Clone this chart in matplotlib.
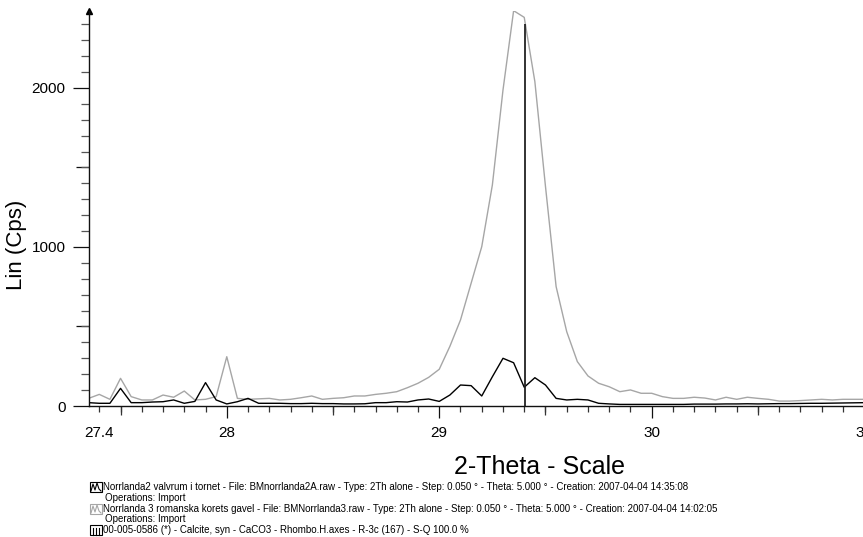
import numpy as np
import matplotlib.pyplot as plt
from matplotlib.patches import Rectangle
from matplotlib.lines import Line2D
from matplotlib.ticker import FixedLocator, FuncFormatter, MultipleLocator

plt.rcParams['font.family'] = ['Liberation Sans', 'DejaVu Sans']

# Data, step 0.05 deg 2-theta
two_theta = np.linspace(27.35, 31.0, 74)

norrlanda2 = [21, 17, 17, 111, 21, 21, 25, 27, 38, 17,
              29, 147, 38, 13, 27, 48, 17, 17, 17, 15,
              15, 17, 15, 15, 13, 13, 14, 21, 21, 27,
              25, 38, 44, 29, 69, 132, 128, 63, 184, 300,
              272, 118, 178, 132, 48, 38, 42, 38, 17, 13,
              10, 10, 10, 10, 10, 10, 10, 12, 12, 12,
              13, 13, 14, 13, 14, 15, 15, 16, 17, 17,
              18, 19, 20, 21]

norrlanda3 = [48, 73, 42, 174, 59, 38, 38, 69, 55, 94,
              38, 42, 59, 310, 48, 42, 45, 48, 38, 42,
              52, 63, 42, 48, 52, 63, 63, 73, 80, 90,
              115, 143, 180, 231, 375, 541, 772, 1002, 1390, 1987,
              2486, 2444, 2040, 1380, 751, 467, 279, 189, 143, 121,
              90, 101, 80, 80, 59, 48, 48, 55, 50, 38,
              55, 42, 55, 48, 42, 31, 31, 34, 38, 42,
              38, 42, 42, 42]

calcite_pos = [29.405]
calcite_height = [2400]

legend_lines = [
    "Norrlanda2 valvrum i tornet - File: BMnorrlanda2A.raw - Type: 2Th alone - Step: 0.050 \u00b0 - Theta: 5.000 \u00b0 - Creation: 2007-04-04 14:35:08",
    "Operations: Import",
    "Norrlanda 3 romanska korets gavel - File: BMNorrlanda3.raw - Type: 2Th alone - Step: 0.050 \u00b0 - Theta: 5.000 \u00b0 - Creation: 2007-04-04 14:02:05",
    "Operations: Import",
    "00-005-0586 (*) - Calcite, syn - CaCO3 - Rhombo.H.axes - R-3c (167) - S-Q 100.0 %",
]

W, H = 863, 537
fig = plt.figure(figsize=(W / 100, H / 100), dpi=100)


def fx(px):
    return px / W


def fy(py):
    return 1 - py / H


# axes run a bit past the right edge, so the "31" label is cut like the original
right_px = 880
ax = fig.add_axes([fx(89.3), fy(406), fx(right_px - 89.3), (406 - 11) / H])

ax.plot(two_theta, norrlanda3, color='#a6a6a6', lw=1.0)
ax.plot(two_theta, norrlanda2, color='black', lw=1.0)
ax.vlines(calcite_pos, 0, calcite_height, color='#222222', lw=1.3)

ax.set_xlim(27.353, 28 + (right_px - 226.7) / 212.5)
ax.set_ylim(0, 2484)

for s in ['top', 'right']:
    ax.spines[s].set_visible(False)
for s in ['left', 'bottom']:
    ax.spines[s].set_linewidth(1.0)
    ax.spines[s].set_color('#111111')

# y ticks
ax.yaxis.set_major_locator(FixedLocator([0, 1000, 2000]))
ax.yaxis.set_minor_locator(MultipleLocator(100))
ax.tick_params(axis='y', which='major', length=11.5, width=0.9, pad=5.5,
               labelsize=11, color='#111111')
ax.tick_params(axis='y', which='minor', length=5.8, width=0.9, color='#555555')

# x ticks
ax.xaxis.set_major_locator(FixedLocator([28, 29, 30, 31]))
ax.xaxis.set_minor_locator(MultipleLocator(0.1))
ax.xaxis.set_major_formatter(FuncFormatter(lambda v, p: '%d' % round(v)))
ax.xaxis.set_minor_formatter(FuncFormatter(lambda v, p: '27.4' if abs(v - 27.4) < 1e-6 else ''))
ax.tick_params(axis='x', which='major', length=8.6, width=0.9, pad=5.5,
               labelsize=11, color='#111111')
ax.tick_params(axis='x', which='minor', length=4.3, width=0.9, pad=9.8,
               labelsize=11, color='#333333')

# medium ticks at the half marks
secx = ax.secondary_xaxis('bottom')
secx.set_xticks([27.5, 28.5, 29.5, 30.5])
secx.set_xticklabels([])
secx.tick_params(length=6.5, width=0.9, color='#333333')
secx.spines['bottom'].set_visible(False)

secy = ax.secondary_yaxis('left')
secy.set_yticks([500, 1500])
secy.set_yticklabels([])
secy.tick_params(length=9.4, width=0.9, color='#111111')
secy.spines['left'].set_visible(False)

# small arrow at top of y axis
ax.plot([0], [1], marker='^', ms=4, color='black', transform=ax.transAxes, clip_on=False)

fig.text(fx(17), fy(245), 'Lin (Cps)', rotation=90, ha='center', va='center', fontsize=16)
fig.text(fx(540), fy(467), '2-Theta - Scale', ha='center', va='center', fontsize=18)

# legend block
line_y = [487, 498, 509, 519, 530]
for yy, txt in zip(line_y, legend_lines):
    xx = 105 if txt.startswith('Operations') else 103
    fig.text(fx(xx), fy(yy), txt, ha='left', va='center', fontsize=7)

icon_colors = ['black', '#a6a6a6', 'black']
icon_rows = [487, 509, 530]
for c, yy in zip(icon_colors, icon_rows):
    fig.add_artist(Rectangle((fx(90), fy(yy + 5)), fx(12), 10 / H, fill=False,
                             edgecolor=c, lw=0.8, transform=fig.transFigure))
for c, yy in zip(icon_colors[:2], icon_rows[:2]):
    zx = [91, 93, 95, 97, 99, 101]
    zy = [yy + 4, yy - 3, yy + 3, yy - 4, yy + 2, yy + 4]
    fig.add_artist(Line2D([fx(v) for v in zx], [fy(v) for v in zy], color=c, lw=0.8,
                          transform=fig.transFigure))
for xx in [93, 96, 99]:
    fig.add_artist(Line2D([fx(xx), fx(xx)], [fy(535), fy(528)], color='black', lw=0.8,
                          transform=fig.transFigure))

fig.savefig('out.png', dpi=100)
